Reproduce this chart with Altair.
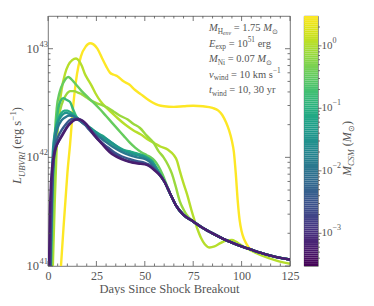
import altair as alt
import pandas as pd
import numpy as np

FONT = "Liberation Serif"
TXT = "#555555"
W, H = 242, 250

# ---------------- data (day, log10 L) ----------------
TAIL_D = [60, 63, 66, 70, 75, 80, 85, 90, 95, 100, 105, 110, 115, 120, 125]
TAIL_L = [41.78, 41.67, 41.56, 41.47, 41.41, 41.35, 41.30, 41.255, 41.215, 41.18, 41.15, 41.12, 41.095, 41.075, 41.06]

Y_M = 3.0
Y_D = [6.7, 8, 9, 10, 11.4, 13, 15, 17, 19.5, 21.7, 23.5, 25.5, 28, 30, 32, 34, 36, 39, 42, 45, 48, 51, 54, 57, 60, 65, 70, 75, 80, 85, 88, 90, 92, 93.5, 95, 96, 97, 98, 99, 100, 101, 102, 103, 104]
Y_L = [41.0, 41.35, 41.6, 41.85, 42.12, 42.47, 42.77, 42.93, 43.02, 43.05, 43.04, 43.0, 42.91, 42.84, 42.78, 42.76, 42.745, 42.70, 42.67, 42.62, 42.58, 42.54, 42.505, 42.48, 42.47, 42.465, 42.47, 42.475, 42.47, 42.455, 42.43, 42.39, 42.32, 42.25, 42.15, 42.05, 41.85, 41.6, 41.42, 41.32, 41.26, 41.22, 41.19, 41.165]

A_M = 1.1
A_D = [2.5, 3.5, 4.5, 5.5, 7, 8.8, 10.5, 12.5, 14.5, 16, 17.5, 19, 20.5, 22.5, 24.5, 27, 30, 33, 36, 40, 44, 48, 52, 55, 58, 62, 65, 66.6, 68, 70, 72, 74, 77, 79, 81, 83.5, 86, 89, 92, 95, 97, 99, 101, 104, 110, 118, 125]
A_L = [41.0, 41.6, 42.1, 42.4, 42.62, 42.77, 42.85, 42.895, 42.91, 42.89, 42.84, 42.77, 42.72, 42.66, 42.59, 42.52, 42.46, 42.41, 42.36, 42.30, 42.25, 42.21, 42.16, 42.13, 42.10, 42.07, 42.02, 41.97, 41.88, 41.76, 41.65, 41.52, 41.35, 41.26, 41.20, 41.17, 41.18, 41.21, 41.235, 41.24, 41.225, 41.20, 41.18, 41.15, 41.10, 41.05, 41.02]

B_M = 0.75
B_D = [2, 3, 4, 5, 6.5, 8, 9.5, 11.5, 13.5, 15.5, 17.5, 20, 22.5, 25, 28, 30.5, 34, 37, 41, 44, 47.5, 51, 54.7, 57, 59.7, 62, 64, 66, 68, 70, 72.5, 75]
B_L = [41.0, 41.6, 42.05, 42.3, 42.45, 42.53, 42.58, 42.61, 42.61, 42.595, 42.58, 42.55, 42.52, 42.50, 42.48, 42.46, 42.42, 42.385, 42.35, 42.31, 42.27, 42.20, 42.13, 42.06, 42.0, 41.93, 41.85, 41.73, 41.60, 41.52, 41.45, 41.41]

C_M = 0.35
C_D = [1.5, 2.5, 3.5, 4.5, 6, 8, 10.5, 12, 14, 17.4, 20.8, 24.3, 27, 30, 33, 36, 39, 42, 45, 48, 51, 53, 55, 57, 59]
C_L = [41.0, 41.7, 42.2, 42.45, 42.6, 42.69, 42.74, 42.72, 42.68, 42.61, 42.55, 42.49, 42.44, 42.38, 42.32, 42.26, 42.2, 42.14, 42.09, 42.05, 42.02, 42.0, 41.97, 41.92, 41.85]

D_M = 0.15
D_D = [1.2, 2, 3, 4, 4.5, 5.3, 6.5, 7.9, 9.5, 11.4, 13, 14.8, 17, 20, 23, 26, 30, 34, 38, 42, 46, 50, 52, 54, 56, 58]
D_L = [41.0, 41.6, 42.0, 42.25, 42.34, 42.45, 42.52, 42.545, 42.53, 42.51, 42.44, 42.37, 42.33, 42.29, 42.25, 42.21, 42.16, 42.11, 42.07, 42.05, 42.03, 42.01, 41.99, 41.96, 41.9, 41.84]

E2_M = 0.08
E2_D = [1.5, 2.3, 3, 4, 5.5, 7, 8.5, 10, 12, 14, 16, 19, 22, 25, 28, 31, 35, 39, 43, 47, 50, 52, 54, 56, 58]
E2_L = [41.0, 41.7, 42.05, 42.25, 42.36, 42.41, 42.43, 42.43, 42.41, 42.38, 42.35, 42.31, 42.27, 42.23, 42.2, 42.16, 42.11, 42.07, 42.05, 42.03, 42.01, 41.99, 41.96, 41.9, 41.84]

E_M = 0.035
E_D = [1.0, 1.8, 2.5, 3.5, 5, 6.5, 8, 9.5, 11, 13, 15, 18, 21, 24, 27, 30, 34, 38, 42, 46, 50, 52, 54, 56, 58]
E_L = [41.0, 41.7, 42.05, 42.22, 42.32, 42.37, 42.40, 42.41, 42.40, 42.38, 42.36, 42.32, 42.28, 42.24, 42.2, 42.17, 42.12, 42.07, 42.04, 42.02, 42.0, 41.98, 41.95, 41.9, 41.84]

F_M = 0.012
F_D = [1.0, 1.8, 2.5, 3.5, 5, 7, 9, 11, 13, 15, 18, 21, 24, 27, 30, 34, 38, 42, 46, 50, 52, 54, 56, 58]
F_L = [41.0, 41.6, 41.95, 42.15, 42.27, 42.34, 42.37, 42.385, 42.38, 42.36, 42.32, 42.27, 42.22, 42.18, 42.14, 42.09, 42.05, 42.02, 42.0, 41.985, 41.965, 41.93, 41.88, 41.83]

G_M = 0.004
G_D = [1.2, 2, 2.5, 3, 4, 5, 7, 9, 11, 13, 15, 17, 19, 21, 23, 25, 28, 31, 34, 38, 42, 46, 50, 52, 54, 56, 58]
G_L = [41.0, 41.6, 41.85, 42.0, 42.12, 42.18, 42.25, 42.3, 42.34, 42.355, 42.35, 42.33, 42.3, 42.26, 42.22, 42.18, 42.13, 42.09, 42.05, 42.01, 41.985, 41.965, 41.95, 41.935, 41.91, 41.875, 41.83]

H_M = 0.0015
H_D = [1, 1.5, 2, 3, 4, 5, 7, 9, 11, 13, 15, 17, 19, 21, 23, 25, 27, 30, 33, 36, 40, 44, 48, 51, 53, 55, 58]
H_L = [41.0, 41.45, 41.75, 41.98, 42.08, 42.13, 42.2, 42.26, 42.31, 42.34, 42.355, 42.345, 42.32, 42.28, 42.23, 42.19, 42.15, 42.095, 42.045, 42.01, 41.975, 41.955, 41.945, 41.935, 41.915, 41.885, 41.835]

P_M = 0.0006
P_D = [0.5, 1, 1.5, 2, 3, 4, 6, 8, 10, 12, 14, 16, 18, 20, 22, 24, 26, 28, 30, 33, 36, 40, 44, 48, 51, 53, 55, 58]
P_L = [41.0, 41.5, 41.75, 41.88, 42.02, 42.09, 42.16, 42.22, 42.28, 42.32, 42.345, 42.35, 42.335, 42.30, 42.25, 42.20, 42.16, 42.12, 42.08, 42.03, 42.0, 41.97, 41.95, 41.94, 41.93, 41.91, 41.88, 41.83]

CURVES = [(Y_M, Y_D, Y_L), (A_M, A_D, A_L), (B_M, B_D, B_L), (C_M, C_D, C_L),
          (D_M, D_D, D_L), (E2_M, E2_D, E2_L), (E_M, E_D, E_L), (F_M, F_D, F_L),
          (G_M, G_D, G_L), (H_M, H_D, H_L), (P_M, P_D, P_L)]

X_MAJOR = [0, 25, 50, 75, 100, 125]
X_MINOR = [v for v in range(5, 125, 5) if v % 25]
Y_MAJOR = [1e41, 1e42, 1e43]
Y_MINOR = [k * 1e41 for k in range(2, 10)] + [k * 1e42 for k in range(2, 10)]
Y_EXP = ["41", "42", "43"]
CB_MAJOR = [1e-3, 1e-2, 1e-1, 1.0]
CB_EXP = ["\u22123", "\u22122", "\u22121", "0"]
CB_MINOR = ([k * 1e-4 for k in range(4, 10)] + [k * 1e-3 for k in range(2, 10)] +
            [k * 1e-2 for k in range(2, 10)] + [k * 1e-1 for k in range(2, 10)] + [2.0])

# ---------------- helpers ----------------
ROM = {' ': 250, '(': 333, ')': 333, ',': 250, '.': 250, '=': 564, '\u2212': 564,
       'a': 444, 'b': 500, 'c': 444, 'd': 500, 'e': 444, 'f': 333, 'g': 500, 'h': 500,
       'i': 278, 'k': 500, 'l': 278, 'm': 778, 'n': 500, 'o': 500, 'p': 500, 'r': 333,
       's': 389, 't': 278, 'u': 500, 'v': 500, 'w': 722, 'x': 500, 'y': 500,
       'B': 667, 'C': 667, 'E': 611, 'H': 722, 'I': 333, 'L': 611, 'M': 889, 'N': 722,
       'R': 667, 'S': 556, 'U': 722, 'V': 722, '\u2299': 850}
ITA = {' ': 250, 'a': 500, 'c': 444, 'd': 500, 'e': 444, 'i': 278, 'n': 500, 'p': 500,
       'r': 389, 's': 389, 't': 278, 'v': 444, 'w': 667, 'x': 444, 'y': 444,
       'B': 611, 'C': 667, 'E': 611, 'H': 722, 'I': 333, 'L': 556, 'M': 833, 'N': 667,
       'R': 611, 'S': 500, 'U': 722, 'V': 611}


def tw(s, ital):
    t = ITA if ital else ROM
    return sum(t.get(ch, 500) for ch in s) / 1000.0


ONE = pd.DataFrame({"a": [0]})


def rich(segs, x, y, size, angle=0):
    layers = []
    pos = 0.0
    for txt, kind, ital in segs:
        fs = {"n": size, "sub": size * 0.7, "sup": size * 0.7, "ss": size * 0.55}[kind]
        dy = {"n": 0, "sub": size * 0.28, "sup": -size * 0.4, "ss": size * 0.42}[kind]
        lead = len(txt) - len(txt.lstrip(' '))
        trail = len(txt) - len(txt.rstrip(' '))
        core = txt.strip(' ')
        pos += lead * 0.25 * fs
        layers.append(
            alt.Chart(ONE).mark_text(
                text=core, align="left", baseline="alphabetic", dx=pos, dy=dy,
                angle=angle, font=FONT, fontSize=fs,
                fontStyle="italic" if ital else "normal", color=TXT
            ).encode(x=alt.value(x), y=alt.value(y))
        )
        pos += tw(core, ital) * fs + trail * 0.25 * fs
    return layers


# ---------------- main panel ----------------
xscale = alt.Scale(domain=[0, 125], nice=False, zero=False)
yscale = alt.Scale(type="log", domain=[1e41, 2e43], nice=False)
cscale = alt.Scale(type="log", domain=[3e-4, 3], scheme="viridis")
xaxis = alt.Axis(values=X_MAJOR, ticks=False, domain=False, grid=False, labelFlush=False,
                 labelFontSize=12, labelPadding=4, title="Days Since Shock Breakout",
                 titleFontSize=12.5, titlePadding=1, titleFontWeight="normal")

layers = []
for m, d, l in CURVES:
    dd = list(d) + [t for t in TAIL_D if t > d[-1] + 1.0]
    ll = list(l) + [TAIL_L[i] for i, t in enumerate(TAIL_D) if t > d[-1] + 1.0]
    df = pd.DataFrame({"day": dd, "L": 10.0 ** np.array(ll), "m": m})
    layers.append(
        alt.Chart(df).mark_line(strokeWidth=2.4, clip=True, interpolate="monotone").encode(
            x=alt.X("day:Q", scale=xscale, axis=xaxis),
            y=alt.Y("L:Q", scale=yscale, axis=None),
            color=alt.Color("m:Q", scale=cscale, legend=None),
        )
    )

xmaj = pd.DataFrame({"day": X_MAJOR})
xmin = pd.DataFrame({"day": X_MINOR})
for dfx, ln in [(xmaj, 5), (xmin, 2.5)]:
    for y0, y1 in [(H, H - ln), (0, ln)]:
        layers.append(alt.Chart(dfx).mark_rule(color=TXT, strokeWidth=0.8).encode(
            x=alt.X("day:Q", scale=xscale, axis=xaxis), y=alt.value(y0), y2=alt.value(y1)))
ymaj = pd.DataFrame({"L": Y_MAJOR, "base": ["10"] * 3, "exp": Y_EXP})
ymin = pd.DataFrame({"L": Y_MINOR})
for dfy, ln in [(ymaj, 5), (ymin, 2.5)]:
    for x0, x1 in [(0, ln), (W - ln, W)]:
        layers.append(alt.Chart(dfy).mark_rule(color=TXT, strokeWidth=0.8).encode(
            y=alt.Y("L:Q", scale=yscale, axis=None), x=alt.value(x0), x2=alt.value(x1)))
layers.append(alt.Chart(ymaj).mark_text(align="right", baseline="middle", font=FONT, fontSize=12.5,
                                        color=TXT).encode(
    y=alt.Y("L:Q", scale=yscale, axis=None), x=alt.value(-9), text="base:N"))
layers.append(alt.Chart(ymaj).mark_text(align="left", baseline="middle", font=FONT, fontSize=8.5,
                                        color=TXT, dy=-5).encode(
    y=alt.Y("L:Q", scale=yscale, axis=None), x=alt.value(-8.5), text="exp:N"))

# y title
layers += rich([("L", "n", True), ("UBVRI", "sub", True), (" (erg s", "n", False),
                ("\u22121", "sup", False), (")", "n", False)], -27, 168, 12.5, angle=270)

# annotation block
AX, AS = 161, 10.5
ann = [
    [("M", "n", True), ("H", "sub", False), ("env", "ss", True), (" = 1.75 ", "n", False),
     ("M", "n", True), ("\u2299", "sub", False)],
    [("E", "n", True), ("exp", "sub", False), (" = 10", "n", False), ("51", "sup", False),
     (" erg", "n", False)],
    [("M", "n", True), ("Ni", "sub", False), (" = 0.07 ", "n", False), ("M", "n", True),
     ("\u2299", "sub", False)],
    [("v", "n", True), ("wind", "sub", False), (" = 10 km s", "n", False), ("\u22121", "sup", False)],
    [("t", "n", True), ("wind", "sub", False), (" = 10, 30 yr", "n", False)],
]
for i, segs in enumerate(ann):
    layers += rich(segs, AX, 15 + 15.5 * i, AS)

main = alt.layer(*layers).properties(width=W, height=H)

# ---------------- colorbar ----------------
edges = np.logspace(np.log10(3e-4), np.log10(3), 121)
cb = pd.DataFrame({"lo": edges[:-1], "hi": edges[1:], "mid": np.sqrt(edges[:-1] * edges[1:])})
cbscale = alt.Scale(type="log", domain=[3e-4, 3], nice=False)
CBW = 14
cl = [alt.Chart(cb).mark_rect().encode(
    y=alt.Y("lo:Q", scale=cbscale, axis=None), y2="hi",
    x=alt.value(0), x2=alt.value(CBW),
    color=alt.Color("mid:Q", scale=cscale, legend=None))]
cmaj = pd.DataFrame({"m": CB_MAJOR, "base": ["10"] * 4, "exp": CB_EXP})
cmin = pd.DataFrame({"m": CB_MINOR})
for dfc, ln in [(cmaj, 3.5), (cmin, 2)]:
    cl.append(alt.Chart(dfc).mark_rule(color=TXT, strokeWidth=0.8).encode(
        y=alt.Y("m:Q", scale=cbscale, axis=None), x=alt.value(CBW), x2=alt.value(CBW + ln)))
cl.append(alt.Chart(cmaj).mark_text(align="left", baseline="middle", font=FONT, fontSize=11,
                                    color=TXT).encode(
    y=alt.Y("m:Q", scale=cbscale, axis=None), x=alt.value(17.5), text="base:N"))
cl.append(alt.Chart(cmaj).mark_text(align="left", baseline="middle", font=FONT, fontSize=8,
                                    color=TXT, dy=-5).encode(
    y=alt.Y("m:Q", scale=cbscale, axis=None), x=alt.value(28.5), text="exp:N"))
cl += rich([("M", "n", True), ("CSM", "sub", True), (" (", "n", False), ("M", "n", True),
            ("\u2299", "sub", False), (")", "n", False)], 47, 160, 12, angle=270)
cbar = alt.layer(*cl).properties(width=CBW, height=H)

chart = alt.hconcat(main, cbar, spacing=14, bounds="flush").resolve_scale(
    x="independent", y="independent", color="shared"
).properties(padding={"left": 0, "top": 7, "right": 0, "bottom": 0}).configure_view(
    stroke=TXT, strokeWidth=0.8
).configure_axis(labelFont=FONT, titleFont=FONT, labelColor=TXT, titleColor=TXT)

chart.save("out.html", embed_options={"renderer": "svg", "actions": False})
